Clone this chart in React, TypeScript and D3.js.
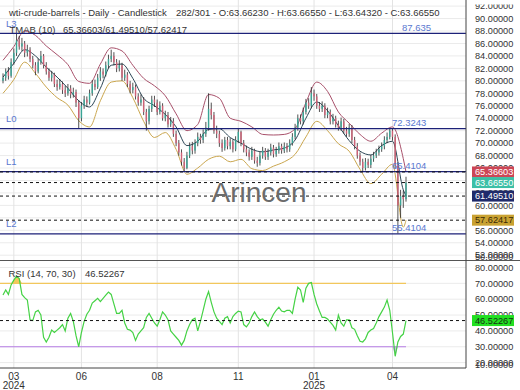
import React from 'react';
import * as d3 from 'd3';

// daily candles (2-day sampling of the visible window)
const closes = [
  80.5, 81.5, 80.8, 83, 84.5, 86.5, 85.5, 86, 84.5, 85,
  83.5, 82.5, 81.5, 83, 84, 82.5, 81.5, 80.5, 81, 79.5,
  79, 79.5, 78.5, 78, 78.8, 77.8, 78.2, 76.5, 74, 76,
  77, 76.5, 78, 79.5, 79, 80.5, 81.5, 81, 82.5, 83.5,
  84, 83, 82, 82.5, 80.5, 81, 79.5, 78.5, 79, 77.5,
  76.5, 77, 75, 73.5, 75.5, 77, 76.5, 75, 76, 74,
  74.5, 73, 73.5, 71.5, 70, 68.5, 67, 66, 68, 69.5,
  68.8, 70, 71, 70.5, 71.5, 72.5, 75.5, 74.5, 72, 71.5,
  70, 69.2, 70.5, 69.5, 70.2, 69, 70.5, 71.8, 70, 69,
  68.5, 67.8, 68.8, 67.2, 66.8, 68, 68.8, 67.8, 68.5, 69.3,
  68.2, 68.8, 69.5, 68.8, 69.5, 69, 70, 71, 72.5, 74,
  73.5, 75, 76.5, 76, 78, 77.5, 76, 75.5, 76, 74.5,
  75, 73.5, 74, 73, 72.5, 73.5, 72, 71.5, 72.5, 70.5,
  69.5, 68, 67, 66, 67, 66.5, 67.5, 68, 68.5, 69,
  69.5, 70.5, 71, 72, 71, 66.5, 60, 61.5, 61, 63.6655,
];
const highs = [
  81.2, 82.0, 82.2, 83.6, 85.2, 87.6, 87.2, 86.9, 86.4, 85.8,
  85.4, 84.0, 83.0, 83.6, 84.8, 84.3, 83.0, 82.0, 81.6, 81.3,
  80.2, 80.3, 79.9, 79.2, 79.5, 79.3, 78.9, 78.6, 76.9, 76.6,
  77.6, 77.5, 78.6, 80.1, 80.2, 81.1, 82.2, 82.0, 83.1, 84.2,
  85.0, 84.6, 83.5, 83.3, 82.9, 81.8, 81.4, 80.0, 79.7, 79.4,
  78.0, 77.8, 77.4, 75.5, 76.0, 77.6, 77.6, 77.0, 76.7, 76.4,
  75.2, 75.0, 74.2, 74.0, 72.0, 70.5, 69.0, 67.6, 68.6, 70.1,
  70.2, 70.6, 71.7, 71.5, 72.2, 73.4, 78.0, 76.5, 75.0, 72.8,
  72.0, 70.6, 71.0, 71.0, 70.8, 70.6, 71.1, 72.4, 72.0, 70.5,
  69.6, 69.0, 69.4, 69.1, 67.8, 68.6, 69.4, 69.2, 69.1, 69.9,
  69.7, 69.4, 70.1, 69.9, 70.1, 70.0, 70.6, 71.6, 73.1, 74.6,
  74.6, 75.7, 77.1, 77.2, 79.0, 78.6, 77.9, 76.6, 76.7, 76.4,
  75.7, 75.4, 74.7, 74.4, 73.6, 74.1, 73.9, 72.6, 73.1, 72.9,
  71.0, 70.0, 68.5, 67.5, 67.6, 67.5, 68.1, 68.6, 69.1, 69.6,
  70.1, 71.1, 71.7, 72.3, 72.3, 71.4, 66.9, 62.5, 62.4, 64.6,
];
const lows = [
  79.6, 80.0, 80.2, 80.5, 82.6, 84.0, 85.0, 84.8, 83.8, 83.9,
  83.0, 82.0, 80.9, 81.2, 82.6, 82.0, 81.0, 80.0, 79.9, 79.0,
  78.4, 78.6, 77.9, 77.4, 77.6, 77.2, 77.3, 75.8, 72.4, 73.5,
  75.5, 75.8, 76.2, 77.6, 78.5, 78.7, 80.0, 80.4, 80.7, 82.0,
  83.0, 82.5, 81.4, 81.5, 80.0, 80.0, 79.0, 78.0, 78.0, 77.0,
  76.0, 76.0, 74.5, 72.0, 73.0, 75.0, 75.8, 74.5, 74.6, 73.6,
  73.5, 72.5, 72.6, 71.0, 69.5, 68.0, 66.4, 65.4, 65.8, 67.6,
  68.2, 68.3, 69.5, 69.9, 70.0, 71.0, 72.0, 73.8, 71.5, 70.8,
  69.4, 68.6, 68.8, 69.0, 69.0, 68.5, 68.7, 70.0, 69.5, 68.5,
  67.9, 67.2, 67.3, 66.7, 66.2, 66.4, 67.5, 67.3, 67.3, 68.0,
  67.7, 67.8, 68.3, 68.3, 68.4, 68.5, 68.6, 69.6, 70.6, 72.0,
  73.0, 73.0, 74.6, 75.5, 75.6, 76.8, 75.5, 75.0, 75.0, 74.0,
  74.0, 73.0, 73.0, 72.5, 72.0, 72.0, 71.5, 71.0, 71.0, 70.0,
  69.0, 67.5, 66.4, 65.4, 65.6, 66.0, 66.0, 67.0, 67.6, 68.0,
  68.6, 69.0, 70.0, 70.6, 70.4, 66.0, 55.5, 58.0, 59.6, 60.6,
];
const firstOpen = 80.0;

// TMAB (10) bands: one reading every 4 bars, the last one on the last bar
const BAND_STEP = 4;
const bandUpper = [
  83.3, 85.5, 88.0, 87.3, 85.6, 84.2, 82.6, 79.9, 79.6, 82.7,
  85.3, 84.8, 82.5, 80.4, 79.2, 77.6, 74.7, 72.0, 73.0, 77.8,
  77.2, 74.0, 73.5, 72.6, 71.4, 71.3, 71.4, 72.3, 76.5, 79.8,
  78.3, 75.0, 73.2, 71.4, 70.3, 71.6, 72.6, 67.5, 65.36603,
];
const bandMiddle = [
  80.6, 82.8, 85.0, 84.0, 82.2, 80.6, 78.8, 76.8, 75.8, 78.8,
  82.5, 82.7, 80.4, 77.2, 76.0, 74.6, 72.6, 69.6, 70.3, 72.2,
  72.3, 70.9, 70.0, 69.0, 68.6, 68.9, 69.2, 70.5, 74.0, 76.6,
  75.2, 72.8, 70.4, 68.7, 68.1, 69.6, 70.3, 62.5, 61.4951,
];
const bandLower = [
  78.0, 80.2, 83.0, 81.2, 79.0, 77.3, 76.1, 73.6, 72.6, 76.8,
  79.8, 80.0, 77.3, 73.5, 70.9, 71.7, 69.0, 65.0, 66.0, 67.4,
  67.9, 67.0, 67.4, 65.9, 65.6, 66.3, 67.0, 68.2, 71.0, 73.5,
  72.0, 69.9, 68.7, 65.8, 63.5, 65.0, 66.6, 56.5, 57.62417,
];

// RSI (14, 70, 30), one value per candle
const rsiValues = [
  62.6, 65.8, 63, 69, 72, 74.5, 73, 63, 61, 59.5,
  47, 46.5, 52, 53, 50, 36, 33, 36, 40.5, 39,
  40.5, 42, 44, 40, 48, 51, 46, 37, 30, 39,
  46, 50.5, 53, 57.5, 59, 60.5, 58.5, 60.5, 62.5, 64.5,
  63, 57, 51, 51, 53, 45, 41, 40.5, 39, 34,
  38, 40, 42, 48.5, 51, 48, 45, 43, 47, 52,
  50, 47, 40, 38, 36, 34, 31, 34, 40, 44,
  47, 48, 40, 46, 53, 60, 64.8, 58, 52, 48,
  46, 44, 48, 49, 45, 49, 51, 52.5, 52, 44,
  42.5, 45, 49, 52, 49, 47, 47.5, 45.5, 43, 47,
  50.5, 53, 55, 52.5, 52, 53, 53, 51, 60, 67.5,
  65.8, 58, 67, 70, 70.5, 63, 57, 52.5, 48.5, 48.5,
  47.5, 45.5, 43.5, 40.5, 50, 45, 43, 47, 47, 42,
  41, 37, 33.5, 33, 35, 39, 40.5, 41.5, 45, 49,
  52, 55, 59.5, 53, 39, 24, 33, 36.5, 38, 46.52267,
];

const levelNames = ['L3', 'L0', 'L1', 'L2'];
const levelValues = [87.635, 72.3243, 65.4104, 55.4104];
const levelLabels = ['87.635', '72.3243', '65.4104', '55.4104'];

const tmabValues = [65.36603, 61.4951, 57.62417];
const lastClose = 63.6655;
const lastRsi = 46.52267;

const monthBars = [4, 29, 57, 87, 115, 144];
const monthLabels = ['03', '06', '08', '11', '01', '04'];
const yearLabels = ['2024', '', '', '', '2025', ''];

const priceTicks = d3.range(50, 93, 2);
const rsiTicks = [10, 20, 30, 40, 50, 60, 70, 80];

export default function App() {
  const W = 520;
  const H = 390;
  const right = 466;
  const mainBottom = 260.5;
  const rsiTop = 260.5;
  const rsiBottom = 368;
  const n = closes.length;

  const x = d3.scaleLinear().domain([0, n - 1]).range([3, 406]);
  const y = d3.scaleLinear().domain([51.15, 92.98]).range([mainBottom, 0]);
  const yr = d3.scaleLinear().domain([16.6, 84.4]).range([rsiBottom, rsiTop]);

  const bandX = (i: number) => x(i === bandUpper.length - 1 ? n - 1 : i * BAND_STEP);
  const bandLine = d3.line<number>().x((_, i) => bandX(i)).y(d => y(d)).curve(d3.curveMonotoneX);
  const rsiLine = d3.line<number>().x((_, i) => x(i)).y(d => yr(d));
  const overFill = d3.area<number>().x((_, i) => x(i)).y0(yr(70)).y1(d => yr(Math.max(d, 70)));
  const underFill = d3.area<number>().x((_, i) => x(i)).y0(yr(30)).y1(d => yr(Math.min(d, 30)));

  const candles = closes.map((c, i) => {
    const o = i === 0 ? firstOpen : closes[i - 1];
    return { i, o, c, h: highs[i], l: lows[i], up: c >= o };
  });

  const boxes = [
    { v: tmabValues[0], fill: '#cc4656', text: '#fff' },
    { v: lastClose, fill: '#3cbfa6', text: '#fff' },
    { v: tmabValues[1], fill: '#1f2a6b', text: '#fff' },
    { v: tmabValues[2], fill: '#c9a232', text: '#3a2a05' },
  ];
  const levelLabelX = [402, 392, 392, 392];

  return (
    <svg
      width={W}
      height={H}
      style={{ position: 'absolute', left: 0, top: 0, background: '#fff' }}
      fontFamily="'Liberation Sans', Arial, sans-serif"
    >
      <defs>
        <clipPath id="mainAxisClip">
          <rect x={right} y={4.5} width={W - right} height={mainBottom - 4.5} />
        </clipPath>
      </defs>
      <rect width={W} height={H} fill="#fff" />

      {/* grid */}
      {priceTicks.filter(v => v >= 52).map(v => (
        <line key={'pg' + v} x1={0} x2={right} y1={y(v)} y2={y(v)} stroke="#ebebeb" />
      ))}
      {rsiTicks.filter(v => v >= 20).map(v => (
        <line key={'rg' + v} x1={0} x2={right} y1={yr(v)} y2={yr(v)} stroke="#ebebeb" />
      ))}
      {monthBars.map(b => (
        <line key={'vg' + b} x1={x(b)} x2={x(b)} y1={0} y2={rsiBottom} stroke="#e3e3e3" />
      ))}

      {/* bands */}
      <path d={bandLine(bandUpper) || ''} fill="none" stroke="#a8506a" strokeWidth={1} />
      <path d={bandLine(bandLower) || ''} fill="none" stroke="#caa64e" strokeWidth={1} />
      <path d={bandLine(bandMiddle) || ''} fill="none" stroke="#2c4656" strokeWidth={1} />

      {/* candles */}
      {candles.map(d => {
        const top = y(Math.max(d.o, d.c));
        const bot = y(Math.min(d.o, d.c));
        return (
          <g key={'c' + d.i}>
            <line x1={x(d.i)} x2={x(d.i)} y1={y(d.h)} y2={y(d.l)} stroke="#262626" strokeWidth={0.8} />
            <rect
              x={x(d.i) - 0.7}
              y={top}
              width={1.4}
              height={Math.max(bot - top, 0.8)}
              fill={d.up ? '#3aa596' : '#cf6176'}
            />
          </g>
        );
      })}

      {/* support / resistance levels */}
      {levelValues.map((v, i) => (
        <g key={'lv' + i}>
          <line x1={0} x2={right} y1={y(v)} y2={y(v)} stroke="#1c2178" strokeWidth={1.3} />
          <text x={6} y={y(v) - 6.5} fontSize={9.5} fill="#5a78d0">{levelNames[i]}</text>
          <text x={levelLabelX[i]} y={y(v) - 2.5} fontSize={9.5} fill="#5a78d0">{levelLabels[i]}</text>
        </g>
      ))}

      {/* current value dashed lines */}
      {[...tmabValues, lastClose].map((v, i) => (
        <line key={'dl' + i} x1={0} x2={right} y1={y(v)} y2={y(v)} stroke="#111" strokeDasharray="3,3" />
      ))}

      <text x={259} y={202} fontSize={28} fill="#6b6b6b" textAnchor="middle">Arincen</text>

      {/* headers */}
      <text x={9} y={16} fontSize={9.5} fill="#333">wti-crude-barrels - Daily - Candlestick</text>
      <text x={176} y={16} fontSize={9.5} fill="#333">282/301 - O:63.66230 - H:63.66550 - L:63.64320 - C:63.66550</text>
      <text x={9.5} y={32.5} fontSize={9.5} fill="#333">TMAB (10)</text>
      <text x={63} y={32.5} fontSize={9.5} fill="#333">{tmabValues.map(v => v.toFixed(5)).join('/')}</text>

      {/* RSI panel */}
      <path d={overFill(rsiValues) || ''} fill="#f0c040" opacity={0.85} />
      <path d={underFill(rsiValues) || ''} fill="#b77ee6" opacity={0.6} />
      <line x1={0} x2={x(n - 1)} y1={yr(70)} y2={yr(70)} stroke="#f2c75c" strokeWidth={1.2} />
      <line x1={0} x2={x(n - 1)} y1={yr(30)} y2={yr(30)} stroke="#b77ee6" strokeWidth={1.2} />
      <path d={rsiLine(rsiValues) || ''} fill="none" stroke="#45d245" strokeWidth={1.2} />
      <line x1={0} x2={right} y1={yr(lastRsi)} y2={yr(lastRsi)} stroke="#111" strokeDasharray="3,3" />
      <text x={8.5} y={276.8} fontSize={9.5} fill="#333">RSI (14, 70, 30)</text>
      <text x={85} y={276.8} fontSize={9.5} fill="#333">{lastRsi.toFixed(5)}</text>

      {/* frame */}
      <line x1={0} x2={W} y1={mainBottom} y2={mainBottom} stroke="#555" />
      <line x1={0} x2={right} y1={rsiBottom} y2={rsiBottom} stroke="#444" />
      <line x1={right} x2={right} y1={0} y2={rsiBottom} stroke="#444" />

      {/* price axis labels */}
      <g clipPath="url(#mainAxisClip)">
        {priceTicks.map(v => (
          <text key={'pt' + v} x={475} y={Math.min(y(v), mainBottom - 3.5)} dy="0.35em" fontSize={9.2} fill="#333">
            {v.toFixed(5)}
          </text>
        ))}
      </g>
      {rsiTicks.map(v => (
        <text key={'rt' + v} x={475} y={Math.min(yr(v), rsiBottom - 3)} dy="0.35em" fontSize={9.2} fill="#333">
          {v.toFixed(5)}
        </text>
      ))}

      {boxes.map((b, i) => (
        <g key={'bx' + i}>
          <rect x={472} y={y(b.v) - 5.5} width={42} height={11} fill={b.fill} />
          <text x={475} y={y(b.v)} dy="0.35em" fontSize={9.2} fill={b.text}>{b.v.toFixed(5)}</text>
        </g>
      ))}
      <rect x={472} y={yr(lastRsi) - 5.5} width={42} height={11} fill="#22e022" />
      <text x={475} y={yr(lastRsi)} dy="0.35em" fontSize={9.2} fill="#153015">{lastRsi.toFixed(5)}</text>

      {/* time axis */}
      {monthBars.map((b, i) => (
        <g key={'tl' + i}>
          <text x={x(b)} y={379.5} fontSize={10} fill="#333" textAnchor="middle">{monthLabels[i]}</text>
          {yearLabels[i] && (
            <text x={x(b)} y={388.5} fontSize={10} fill="#333" textAnchor="middle">{yearLabels[i]}</text>
          )}
        </g>
      ))}
    </svg>
  );
}
